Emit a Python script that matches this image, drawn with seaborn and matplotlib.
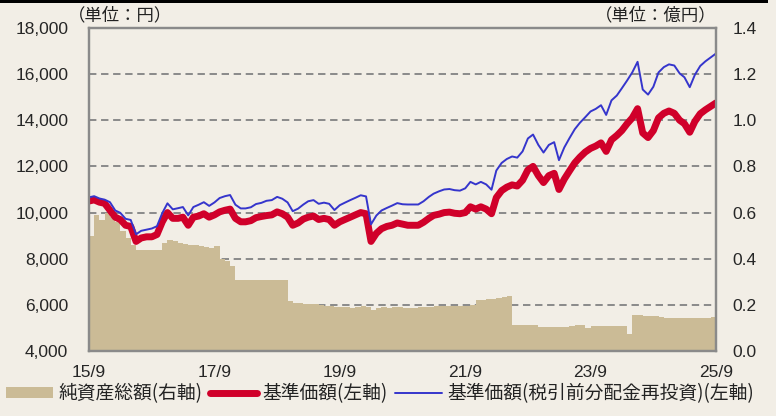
import numpy as np
import pandas as pd
import matplotlib
matplotlib.use("Agg")
import matplotlib.pyplot as plt
import seaborn as sns
from matplotlib.patches import Rectangle

# monthly values, 2015/9 - 2025/9
months = pd.date_range("2015-09-01", "2025-09-01", freq="MS")

# 基準価額 (円)
nav = [
    10500, 10550, 10450, 10400, 10100, 9800, 9700, 9450, 9400, 8750,
    8900, 8950, 8950, 9050, 9600, 10000, 9750, 9750, 9800, 9450,
    9800, 9850, 9950, 9800, 9900, 10030, 10100, 10150, 9750, 9600,
    9600, 9650, 9780, 9830, 9870, 9900, 10030, 9950, 9800, 9450,
    9550, 9720, 9800, 9850, 9700, 9750, 9700, 9450, 9600, 9700,
    9800, 9900, 10000, 9950, 8750, 9100, 9300, 9400, 9450, 9550,
    9500, 9450, 9450, 9450, 9580, 9750, 9880, 9930, 10000, 10020,
    9970, 9950, 10000, 10250, 10150, 10250, 10150, 9950, 10650, 10950,
    11100, 11200, 11150, 11400, 11850, 12000, 11600, 11300, 11600, 11700,
    11000, 11450, 11800, 12150, 12400, 12620, 12780, 12880, 13020, 12650,
    13150, 13340, 13550, 13850, 14100, 14500, 13450, 13250, 13550, 14100,
    14300, 14400, 14300, 14000, 13850, 13480, 13950, 14280, 14450, 14600,
    14750,
]

# 基準価額（税引前分配金再投資） (円)
nav_reinv = [
    10660, 10710, 10610, 10560, 10450, 10090, 9990, 9730, 9680, 9060,
    9210, 9260, 9310, 9410, 9980, 10400, 10140, 10190, 10240, 9880,
    10240, 10340, 10450, 10290, 10440, 10630, 10710, 10760, 10340, 10180,
    10180, 10230, 10370, 10420, 10510, 10540, 10680, 10600, 10440, 10060,
    10170, 10350, 10490, 10540, 10380, 10430, 10380, 10110, 10320, 10430,
    10540, 10640, 10750, 10700, 9490, 9870, 10090, 10200, 10300, 10410,
    10360, 10350, 10350, 10350, 10490, 10680, 10820, 10920, 11000, 11020,
    10970, 10950, 11050, 11330, 11220, 11330, 11220, 10990, 11820, 12150,
    12320, 12430, 12380, 12650, 13210, 13380, 12930, 12600, 12930, 13050,
    12270, 12820, 13220, 13610, 13890, 14130, 14380, 14490, 14650, 14230,
    14860, 15070, 15380, 15720, 16070, 16530, 15330, 15110, 15450, 16070,
    16300, 16420, 16370, 16030, 15860, 15430, 15970, 16350, 16550, 16720,
    16890,
]

# 純資産総額 (億円)
net_assets = [
    0.50, 0.59, 0.57, 0.60, 0.58, 0.56, 0.52, 0.49, 0.46, 0.44,
    0.44, 0.44, 0.44, 0.44, 0.47, 0.48, 0.475, 0.47, 0.465, 0.46,
    0.46, 0.455, 0.45, 0.445, 0.455, 0.40, 0.39, 0.37, 0.31, 0.31,
    0.31, 0.31, 0.31, 0.31, 0.31, 0.31, 0.31, 0.31, 0.215, 0.21,
    0.21, 0.205, 0.205, 0.205, 0.20, 0.195, 0.195, 0.19, 0.19, 0.19,
    0.185, 0.19, 0.195, 0.19, 0.18, 0.185, 0.19, 0.185, 0.19, 0.19,
    0.185, 0.185, 0.185, 0.19, 0.19, 0.19, 0.195, 0.195, 0.196, 0.196,
    0.196, 0.196, 0.196, 0.20, 0.22, 0.22, 0.225, 0.225, 0.23, 0.235,
    0.24, 0.115, 0.115, 0.114, 0.114, 0.113, 0.106, 0.106, 0.106, 0.106,
    0.106, 0.106, 0.108, 0.114, 0.114, 0.10, 0.107, 0.107, 0.108, 0.108,
    0.108, 0.11, 0.11, 0.075, 0.157, 0.155, 0.15, 0.15, 0.15, 0.148,
    0.145, 0.145, 0.145, 0.143, 0.143, 0.143, 0.143, 0.145, 0.145, 0.147,
    0.147,
]

xtick_dates = pd.to_datetime(["2015-09-01", "2017-09-01", "2019-09-01",
                              "2021-09-01", "2023-09-01", "2025-09-01"])
xtick_labels = ["15/9", "17/9", "19/9", "21/9", "23/9", "25/9"]
left_ticks = [4000, 6000, 8000, 10000, 12000, 14000, 16000, 18000]
right_ticks = [0.0, 0.2, 0.4, 0.6, 0.8, 1.0, 1.2, 1.4]

df = pd.DataFrame({"date": months, "nav": nav, "nav_reinv": nav_reinv,
                   "assets": net_assets})

BG = "#f2eee6"
TAN = "#cbbb96"
RED = "#d0002a"
BLUE = "#3535cc"
GRAY = "#8a8a8a"

sns.set_style("white")
plt.rcParams["font.family"] = ["Liberation Sans", "Noto Sans CJK JP"]
plt.rcParams["text.color"] = "#222222"

fig = plt.figure(figsize=(7.76, 4.16), dpi=100, facecolor=BG)
ax = fig.add_axes([0.1147, 0.156, 0.808, 0.777])
ax2 = ax.twinx()
ax.set_zorder(ax2.get_zorder() + 1)
ax.patch.set_visible(False)
ax2.patch.set_facecolor(BG)

# net assets (right axis)
ax2.fill_between(df["date"], df["assets"], 0, step="post", color=TAN,
                 linewidth=0, label="純資産総額(右軸)", zorder=2)
ax2.set_ylim(0, 1.4)
ax2.set_yticks(right_ticks)
ax2.set_yticklabels([f"{v:.1f}" for v in right_ticks])
ax2.set_axisbelow(True)
ax2.grid(axis="y", color=GRAY, linestyle=(0, (3.8, 2.4)), linewidth=1.4, zorder=0)
ax2.grid(axis="x", visible=False)

# prices (left axis)
sns.lineplot(data=df, x="date", y="nav", ax=ax, color=RED, linewidth=5,
             label="基準価額(左軸)", legend=False)
sns.lineplot(data=df, x="date", y="nav_reinv", ax=ax, color=BLUE, linewidth=1.4,
             label="基準価額(税引前分配金再投資)(左軸)", legend=False)
ax.set_ylim(4000, 18000)
ax.set_yticks(left_ticks)
ax.set_yticklabels([f"{v:,}" for v in left_ticks])
ax.set_xlim(months[0], months[-1])
ax.set_xticks(xtick_dates)
ax.set_xticklabels(xtick_labels)
ax.set_xlabel("")
ax.set_ylabel("")
ax.grid(False)

for a in (ax, ax2):
    for s in a.spines.values():
        s.set_color(GRAY)
        s.set_linewidth(1.6)
ax.tick_params(axis="y", length=0, pad=15, labelsize=12.5)
ax2.tick_params(axis="y", length=0, pad=12, labelsize=12.5)
ax.tick_params(axis="x", direction="in", length=5, width=1.4, color=GRAY,
               pad=10, labelsize=12.5)

fig.text(0.088, 0.963, "（単位：円）", fontsize=12.5, ha="left", va="center",
         family=["Noto Sans CJK JP"])
fig.text(0.923, 0.963, "（単位：億円）", fontsize=12.5, ha="right", va="center",
         family=["Noto Sans CJK JP"])

# black band along the top edge of the original image
fig.add_artist(Rectangle((0, 0.993), 0.99, 0.007, transform=fig.transFigure,
                         color="black", linewidth=0))

h2, l2 = ax2.get_legend_handles_labels()
h1, l1 = ax.get_legend_handles_labels()
fig.legend(h2 + h1, l2 + l1, loc="lower center", bbox_to_anchor=(0.49, -0.012),
           ncol=3, frameon=False, fontsize=13.5, handlelength=2.5,
           handleheight=0.55, handletextpad=0.3, columnspacing=0.4,
           prop={"family": ["Noto Sans CJK JP"], "size": 13.5})

fig.savefig("out.png", dpi=100, facecolor=BG)
